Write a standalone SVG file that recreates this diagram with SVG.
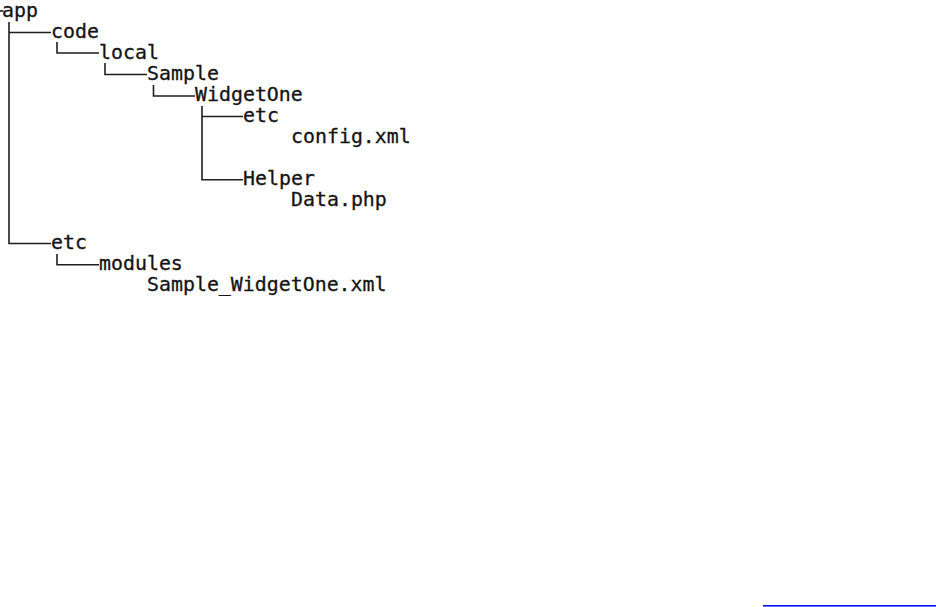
<svg xmlns="http://www.w3.org/2000/svg" width="936" height="607" viewBox="0 0 936 607">
<style>
text{font-family:"DejaVu Sans Mono","Liberation Mono",monospace;font-size:19.9px;fill:#141414;stroke:#141414;stroke-width:0.3}
.c{fill:none;stroke:#1e1e1e;stroke-width:1.6}
</style>
<rect width="936" height="607" fill="#ffffff"/>
<g id="connectors">
<path class="c" d="M0 11H3.5"/>
<path class="c" d="M9 22V243.5H51M9 32.5H51"/>
<path class="c" d="M57 42V53H99"/>
<path class="c" d="M105 63V74.5H147"/>
<path class="c" d="M153.5 85V96H195"/>
<path class="c" d="M202 106V179.8H243M202 116.5H243"/>
<path class="c" d="M57 254V264.8H99"/>
</g>
<g id="app"><text x="2" y="16.5">app</text></g>
<g id="code"><text x="51" y="37.6">code</text></g>
<g id="local"><text x="99" y="58.7">local</text></g>
<g id="sample"><text x="147" y="79.8">Sample</text></g>
<g id="widgetone"><text x="195" y="100.9">WidgetOne</text></g>
<g id="etc1"><text x="243" y="122">etc</text></g>
<g id="configxml"><text x="291" y="143.1">config.xml</text></g>
<g id="helper"><text x="243" y="185.3">Helper</text></g>
<g id="dataphp"><text x="291" y="206.4">Data.php</text></g>
<g id="etc2"><text x="51" y="248.6">etc</text></g>
<g id="modules"><text x="99" y="269.7">modules</text></g>
<g id="samplexml"><text x="147" y="290.8">Sample_WidgetOne.xml</text></g>
<rect id="link-underline" x="763" y="605" width="173" height="1.6" fill="#0a0af0"/>
</svg>
